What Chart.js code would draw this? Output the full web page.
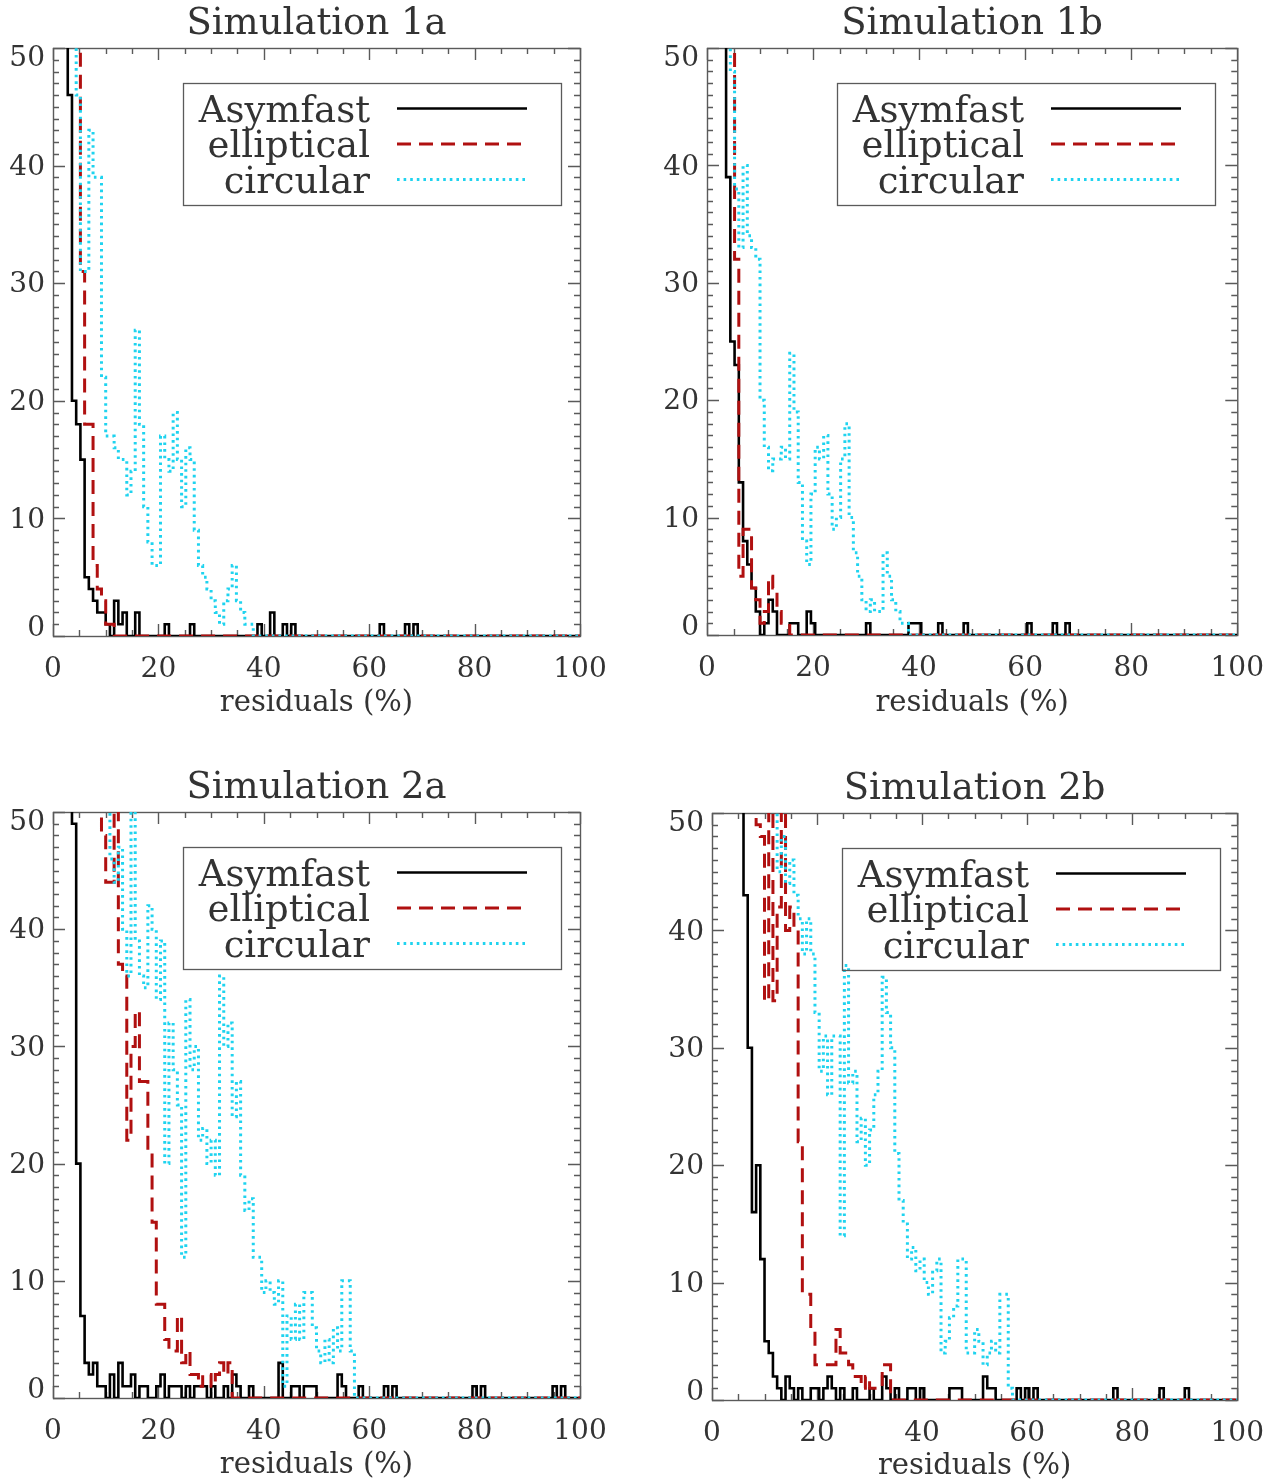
<!DOCTYPE html>
<html lang="en">
<head>
<meta charset="UTF-8" />
<title>Residuals histograms</title>
<script src="https://cdn.jsdelivr.net/npm/chart.js"></script>
<style>
  html, body { margin: 0; padding: 0; background: #fff; overflow: hidden; }
  body { width: 1281px; height: 1480px; position: relative; }
  canvas { position: absolute; }
</style>
</head>
<body>
<canvas id="c1a" width="640" height="740" style="left:0px;top:0px"></canvas>
<canvas id="c1b" width="627" height="740" style="left:654px;top:0px"></canvas>
<canvas id="c2a" width="640" height="738" style="left:0px;top:764px"></canvas>
<canvas id="c2b" width="622" height="738" style="left:659px;top:765px"></canvas>

<script>
// histogram bins: 0.8 % wide, centred on 0, 0.8, 1.6 ... 100
const binWidth = 0.8;
const seriesNames = ['Asymfast', 'elliptical', 'circular'];
const xTickLabels = [0, 20, 40, 60, 80, 100];
const yTickLabels = [0, 10, 20, 30, 40, 50];

// counts per bin (null = bin not plotted)
const asym1a = [null,null,null,70,46,20,18,15,5,4,
  3,2,2,1,0,3,1,2,0,0,
  2,0,0,0,0,0,0,1,0,0,
  0,0,0,1,0,0,0,0,0,0,
  0,0,0,0,0,0,0,0,0,1,
  0,0,2,0,0,1,0,1,0,0,
  0,0,0,0,0,0,0,0,0,0,
  0,0,0,0,0,0,0,0,1,0,
  0,0,0,0,1,0,1,0,0,0,
  0,0,0,0,0,0,0,0,0,0,
  0,0,0,0,0,0,0,0,0,0,
  0,0,0,0,0,0,0,0,0,0,
  0,0,0,0,0,0];
const ellip1a = [null,null,null,null,null,null,70,31,18,18,
  6,4,3,1,1,0,0,0,0,0,
  0,0,0,0,0,0,0,0,0,0,
  0,0,0,0,0,0,0,0,0,0,
  0,0,0,0,0,0,0,0,0,0,
  0,0,0,0,0,0,0,0,0,0,
  0,0,0,0,0,0,0,0,0,0,
  0,0,0,0,0,0,0,0,0,0,
  0,0,0,0,0,0,0,0,0,0,
  0,0,0,0,0,0,0,0,0,0,
  0,0,0,0,0,0,0,0,0,0,
  0,0,0,0,0,0,0,0,0,0,
  0,0,0,0,0,0];
const circ1a = [null,null,null,null,null,70,46,31,31,43,
  39,39,22,17,17,16,15,15,12,14,
  26,18,11,8,6,6,17,15,14,19,
  15,11,16,15,9,6,5,4,3,2,
  1,3,4,6,3,2,1,1,0,0,
  0,0,0,0,0,0,0,0,0,0,
  0,0,0,0,0,0,0,0,0,0,
  0,0,0,0,0,0,0,0,0,0,
  0,0,0,0,0,0,0,0,0,0,
  0,0,0,0,0,0,0,0,0,0,
  0,0,0,0,0,0,0,0,0,0,
  0,0,0,0,0,0,0,0,0,0,
  0,0,0,0,0,0];

const asym1b = [null,null,null,null,70,39,25,23,13,8,
  6,4,2,0,1,3,2,0,0,0,
  1,1,0,0,2,1,0,0,0,0,
  0,0,0,0,0,0,0,0,1,0,
  0,0,0,0,0,0,0,0,1,1,
  1,0,0,0,0,1,0,0,0,0,
  0,1,0,0,0,0,0,0,0,0,
  0,0,0,0,0,0,1,0,0,0,
  0,0,1,0,0,1,0,0,0,0,
  0,0,0,0,0,0,0,0,0,0,
  0,0,0,0,0,0,0,0,0,0,
  0,0,0,0,0,0,0,0,0,0,
  0,0,0,0,0,0];
const ellip1b = [null,null,null,null,null,null,70,32,5,9,
  9,4,3,1,2,5,4,2,1,1,
  0,0,0,0,0,0,0,0,0,0,
  0,0,0,0,0,0,0,0,0,0,
  0,0,0,0,0,0,0,0,0,0,
  0,0,0,0,0,0,0,0,0,0,
  0,0,0,0,0,0,0,0,0,0,
  0,0,0,0,0,0,0,0,0,0,
  0,0,0,0,0,0,0,0,0,0,
  0,0,0,0,0,0,0,0,0,0,
  0,0,0,0,0,0,0,0,0,0,
  0,0,0,0,0,0,0,0,0,0,
  0,0,0,0,0,0];
const circ1b = [null,null,null,null,null,70,48,38,33,40,
  34,33,32,20,16,14,15,15,16,15,
  24,19,13,8,6,12,16,15,17,12,
  9,10,15,18,10,7,5,3,2,3,
  2,2,7,5,3,2,1,1,0,0,
  0,0,0,0,0,0,0,0,0,0,
  0,0,0,0,0,0,0,0,0,0,
  0,0,0,0,0,0,0,0,0,0,
  0,0,0,0,0,0,0,0,0,0,
  0,0,0,0,0,0,0,0,0,0,
  0,0,0,0,0,0,0,0,0,0,
  0,0,0,0,0,0,0,0,0,0,
  0,0,0,0,0,0];

const asym2a = [null,null,null,null,70,49,20,7,3,2,
  3,1,1,0,2,0,3,1,1,2,
  0,1,1,0,0,1,2,0,1,1,
  1,0,1,0,1,1,1,0,1,0,
  0,1,0,2,1,0,0,1,0,0,
  0,0,0,0,3,0,0,1,1,0,
  1,1,1,0,0,0,0,0,2,1,
  0,0,0,1,0,0,0,0,0,1,
  0,1,0,0,0,0,0,0,0,0,
  0,0,0,0,0,0,0,0,0,0,
  1,0,1,0,0,0,0,0,0,0,
  0,0,0,0,0,0,0,0,0,1,
  0,1,0,0,0,0];
const ellip2a = [null,null,null,null,null,null,null,null,null,null,
  null,70,48,44,44,70,37,36,22,30,
  33,27,27,21,15,8,8,5,4,4,
  7,3,4,2,2,1,2,2,1,2,
  3,2,3,0,0,0,0,0,0,0,
  0,0,0,0,0,0,0,0,0,0,
  0,0,0,0,0,0,0,0,0,0,
  0,0,0,0,0,0,0,0,0,0,
  0,0,0,0,0,0,0,0,0,0,
  0,0,0,0,0,0,0,0,0,0,
  0,0,0,0,0,0,0,0,0,0,
  0,0,0,0,0,0,0,0,0,0,
  0,0,0,0,0,0];
const circ2a = [null,null,null,null,null,null,null,null,null,null,
  null,null,null,70,46,44,47,40,36,50,
  39,36,35,42,40,34,39,20,32,28,
  25,12,34,28,30,22,23,20,22,19,
  36,30,32,24,27,19,16,17,12,12,
  9,10,9,8,10,1,7,5,8,5,
  9,9,6,4,3,5,3,6,4,10,
  10,4,0,0,0,0,0,0,0,0,
  0,0,0,0,0,0,0,0,0,0,
  0,0,0,0,0,0,0,0,0,0,
  0,0,0,0,0,0,0,0,0,0,
  0,0,0,0,0,0,0,0,0,0,
  0,0,0,0,0,0];

const asym2b = [null,null,null,null,null,null,null,70,43,30,
  16,20,12,5,4,2,1,0,2,1,
  0,1,0,0,1,1,0,1,2,1,
  0,1,0,0,1,0,0,0,1,0,
  0,2,1,0,1,0,0,1,1,0,
  1,0,0,0,0,0,0,1,1,1,
  0,0,0,0,0,2,1,1,0,0,
  0,0,0,1,0,1,0,1,0,0,
  0,0,0,0,0,0,0,0,0,0,
  0,0,0,0,0,0,1,0,0,0,
  0,0,0,0,0,0,0,1,0,0,
  0,0,0,1,0,0,0,0,0,0,
  0,0,0,0,0,0];
const ellip2b = [null,null,null,null,null,null,null,null,null,null,
  70,49,48,34,70,34,42,70,40,42,
  40,22,9,9,6,3,3,3,3,3,
  6,4,4,3,2,2,1,2,1,1,
  1,3,3,0,0,0,0,0,0,0,
  0,0,0,0,0,0,0,0,0,0,
  0,0,0,0,0,0,0,0,0,0,
  0,0,0,0,0,0,0,0,0,0,
  0,0,0,0,0,0,0,0,0,0,
  0,0,0,0,0,0,0,0,0,0,
  0,0,0,0,0,0,0,0,0,0,
  0,0,0,0,0,0,0,0,0,0,
  0,0,0,0,0,0];
const circ2b = [null,null,null,null,null,null,null,null,null,null,
  null,null,null,null,null,70,45,48,44,46,
  43,41,38,41,38,33,28,31,26,31,
  31,14,37,27,28,22,24,20,23,26,
  28,36,33,30,21,17,15,12,13,11,
  12,10,9,11,12,4,5,7,8,12,
  12,4,4,6,5,3,4,5,4,9,
  9,1,0,0,0,0,0,0,0,0,
  0,0,0,0,0,0,0,0,0,0,
  0,0,0,0,0,0,0,0,0,0,
  0,0,0,0,0,0,0,0,0,0,
  0,0,0,0,0,0,0,0,0,0,
  0,0,0,0,0,0];

// ---- styles ----
const FONT = '"DejaVu Serif", "Liberation Serif", serif';
const TEXT = '#333';
const AXIS = '#5a5a5a';
const lineStyles = [
  { color: '#000000', width: 2.6, dash: [] },
  { color: '#b01010', width: 3, dash: [14, 8] },
  { color: '#1fd3ef', width: 3, dash: [2.6, 4] }
];

const panels = [
  { id: 'c1a', title: 'Simulation 1a', series: [asym1a, ellip1a, circ1a], plotRight: 580, plotBottom: 636 },
  { id: 'c1b', title: 'Simulation 1b', series: [asym1b, ellip1b, circ1b], plotRight: 584, plotBottom: 635 },
  { id: 'c2a', title: 'Simulation 2a', series: [asym2a, ellip2a, circ2a], plotRight: 580, plotBottom: 634 },
  { id: 'c2b', title: 'Simulation 2b', series: [asym2b, ellip2b, circ2b], plotRight: 584, plotBottom: 635 }
];

// frame, inward ticks, y labels and the boxed legend
const framePlugin = {
  id: 'framePlugin',
  beforeDatasetsDraw(chart) {
    const { ctx, chartArea: a, scales: { x, y } } = chart;
    ctx.save();
    ctx.strokeStyle = AXIS;
    ctx.lineWidth = 1.4;
    ctx.beginPath();
    for (let v = 0; v <= 100; v += 5) {
      const px = Math.round(x.getPixelForValue(v)) + 0.5;
      const len = v % 20 === 0 ? 12 : 6;
      ctx.moveTo(px, a.bottom); ctx.lineTo(px, a.bottom - len);
      ctx.moveTo(px, a.top); ctx.lineTo(px, a.top + len);
    }
    for (let v = 0; v <= 50; v++) {
      const py = Math.round(y.getPixelForValue(v)) + 0.5;
      const len = v % 10 === 0 ? 12 : 6;
      ctx.moveTo(a.left, py); ctx.lineTo(a.left + len, py);
      ctx.moveTo(a.right, py); ctx.lineTo(a.right - len, py);
    }
    ctx.stroke();
    ctx.strokeRect(a.left + 0.5, a.top + 0.5, a.right - a.left, a.bottom - a.top);
    ctx.restore();
  },
  afterDraw(chart) {
    const { ctx, chartArea: a, scales: { y } } = chart;
    ctx.save();
    // y tick labels (end labels pulled inside like the original)
    ctx.font = '28px ' + FONT;
    ctx.fillStyle = TEXT;
    ctx.textAlign = 'right';
    ctx.textBaseline = 'middle';
    yTickLabels.forEach(v => {
      let py = y.getPixelForValue(v) + 2;
      if (v === yTickLabels[0]) py -= 9;
      if (v === yTickLabels[yTickLabels.length - 1]) py += 9;
      ctx.fillText(String(v), a.left - 8, py);
    });

    // legend
    const bx = a.left + 130, by = a.top + 35;
    ctx.strokeStyle = AXIS;
    ctx.lineWidth = 1.3;
    ctx.strokeRect(bx + 0.5, by + 0.5, 378, 122);
    ctx.font = '37px ' + FONT;
    ctx.textBaseline = 'alphabetic';
    chart.data.datasets.forEach((ds, i) => {
      const ly = by + 25.5 + i * 35.5;
      ctx.fillStyle = TEXT;
      ctx.textAlign = 'right';
      ctx.fillText(ds.label, bx + 187, ly + 13);
      ctx.beginPath();
      ctx.setLineDash(ds.borderDash || []);
      ctx.strokeStyle = ds.borderColor;
      ctx.lineWidth = ds.borderWidth;
      ctx.moveTo(bx + 214, ly);
      ctx.lineTo(bx + 344, ly);
      ctx.stroke();
    });
    ctx.restore();
  }
};

panels.forEach(p => {
  const canvas = document.getElementById(p.id);
  const W = canvas.width, H = canvas.height;
  new Chart(canvas, {
    type: 'line',
    data: {
      datasets: p.series.map((counts, k) => ({
        label: seriesNames[k],
        data: counts.map((c, i) => ({ x: i * binWidth, y: c })),
        borderColor: lineStyles[k].color,
        borderWidth: lineStyles[k].width,
        borderDash: lineStyles[k].dash,
        borderCapStyle: 'butt',
        borderJoinStyle: 'miter',
        stepped: 'middle',
        pointRadius: 0,
        fill: false,
        order: 3 - k
      }))
    },
    options: {
      responsive: false,
      animation: false,
      events: [],
      layout: { padding: { left: 0, right: W - p.plotRight, top: 0, bottom: 0 } },
      plugins: {
        legend: { display: false },
        tooltip: { enabled: false },
        title: {
          display: true,
          text: p.title,
          fullSize: false,
          color: TEXT,
          font: { family: FONT, size: 37, weight: 'normal', lineHeight: 1 },
          padding: { top: 6, bottom: 5 }
        }
      },
      scales: {
        x: {
          type: 'linear',
          min: 0, max: 100,
          afterBuildTicks: s => { s.ticks = xTickLabels.map(v => ({ value: v })); },
          afterFit: s => { s.height = H - p.plotBottom; },
          grid: { display: false, drawTicks: false },
          border: { display: false },
          ticks: { color: TEXT, font: { family: FONT, size: 28 }, padding: 17, maxRotation: 0 },
          title: {
            display: true,
            text: 'residuals (%)',
            color: TEXT,
            font: { family: FONT, size: 29 },
            padding: { top: 0, bottom: 19 }
          }
        },
        y: {
          type: 'linear',
          min: 0, max: 50,
          afterFit: s => { s.width = 53; },
          grid: { display: false, drawTicks: false },
          border: { display: false },
          ticks: { display: false, stepSize: 10 }
        }
      }
    },
    plugins: [framePlugin]
  });
});
</script>
</body>
</html>
